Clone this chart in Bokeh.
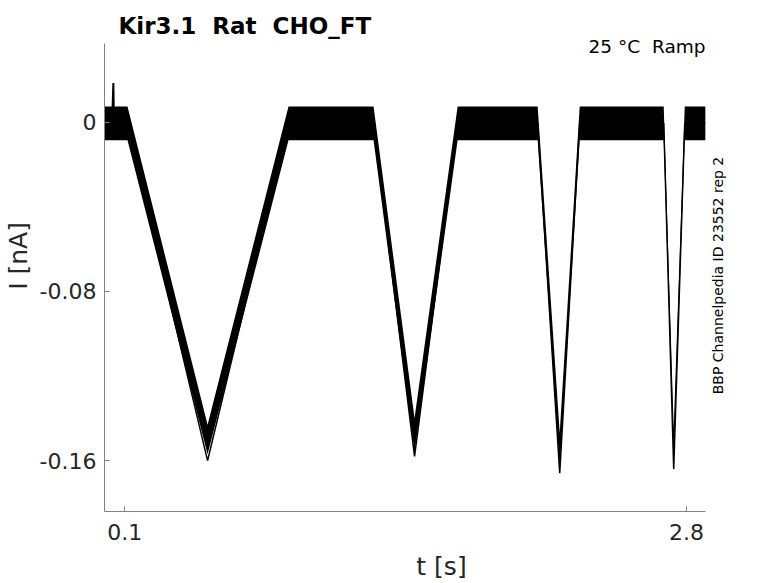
import math
from bokeh.plotting import figure
from bokeh.models import Label, FixedTicker, Range1d
from bokeh.embed import file_html
from bokeh.resources import INLINE

t_env = [0.002, 0.113, 0.498, 0.887, 1.296, 1.493, 1.700, 2.085, 2.191, 2.287, 2.691, 2.739, 2.792, 2.891]
# upper / lower edge of the noise band (nA)
i_upper = [0.0075, 0.0075, -0.143, 0.0075, 0.0075, -0.140, 0.0075, 0.0075, -0.147, 0.0075, 0.0075, -0.145, 0.0075, 0.0075]
i_lower = [-0.0085, -0.0085, -0.157, -0.0085, -0.0085, -0.156, -0.0085, -0.0085, -0.163, -0.0085, -0.0085, -0.161, -0.0085, -0.0085]
# mean trace with the sharpest tips (nA)
i_center = [-0.0005, -0.0005, -0.160, -0.0005, -0.0005, -0.158, -0.0005, -0.0005, -0.166, -0.0005, -0.0005, -0.164, -0.0005, -0.0005]
# transient artefact at the start
t_spike = [0.040, 0.045, 0.049]
i_spike = [0.003, 0.0185, -0.006]

x_ticks = [0.1, 2.8]
x_labels = ["0.1", "2.8"]
y_ticks = [-0.16, -0.08, 0.0]
y_labels = ["-0.16", "-0.08", "0"]
x_axis_span = (0.0024, 2.8913)
y_axis_span = (-0.18407, 0.03729)

# double gaps kept visible with a no-break space
title_text = "Kir3.1 \u00a0Rat \u00a0CHO_FT"
cond_text = "25 \u00b0C \u00a0Ramp"
side_text = "BBP Channelpedia ID 23552 rep 2"

FONT = "DejaVu Sans"
AX_COL = "#808080"
TXT_COL = "#262626"

p = figure(width=778, height=583, output_backend="svg", toolbar_location=None,
           x_range=Range1d(0.0024, 3.2428), y_range=Range1d(-0.18407, 0.05758),
           min_border_left=104, min_border_right=0, min_border_top=0, min_border_bottom=71)
p.title_location = None
p.outline_line_color = None
p.grid.visible = False
p.background_fill_color = "white"
p.border_fill_color = "white"

p.varea(x=t_env, y1=i_lower, y2=i_upper, fill_color="black")
p.line(t_env, i_center, line_color="black", line_width=1.5)
p.line(t_spike, i_spike, line_color="black", line_width=2)

for ax in (p.xaxis[0], p.yaxis[0]):
    ax.axis_line_color = AX_COL
    ax.major_tick_line_color = AX_COL
    ax.minor_tick_line_color = None
    ax.major_tick_in = 5
    ax.major_tick_out = 0
    ax.major_label_text_font = FONT
    ax.major_label_text_font_size = "22px"
    ax.major_label_text_color = TXT_COL
    ax.axis_label_text_font = FONT
    ax.axis_label_text_font_size = "25px"
    ax.axis_label_text_font_style = "normal"
    ax.axis_label_text_color = TXT_COL

p.xaxis.ticker = FixedTicker(ticks=x_ticks)
p.xaxis.major_label_overrides = dict(zip(x_ticks, x_labels))
p.yaxis.ticker = FixedTicker(ticks=y_ticks)
p.yaxis.major_label_overrides = dict(zip(y_ticks, y_labels))
p.xaxis.bounds = x_axis_span
p.yaxis.bounds = y_axis_span
p.xaxis.axis_label = "t [s]"
p.yaxis.axis_label = "I [nA]"
p.xaxis.major_label_standoff = 12
p.xaxis.axis_label_standoff = 9
p.yaxis.major_label_standoff = 8
p.yaxis.axis_label_standoff = 4

p.add_layout(Label(x=14, y=486, x_units="screen", y_units="screen", text=title_text,
                   text_font=FONT, text_font_size="23px", text_font_style="bold",
                   text_color="black", text_align="left", text_baseline="alphabetic"))
p.add_layout(Label(x=601, y=465, x_units="screen", y_units="screen", text=cond_text,
                   text_font=FONT, text_font_size="18.5px", text_color="black",
                   text_align="right", text_baseline="alphabetic"))
p.add_layout(Label(x=613, y=236, x_units="screen", y_units="screen", text=side_text,
                   text_font=FONT, text_font_size="14px", text_color="black",
                   angle=math.pi / 2, text_align="center", text_baseline="middle"))

open("out.html", "w").write(file_html(p, INLINE))
